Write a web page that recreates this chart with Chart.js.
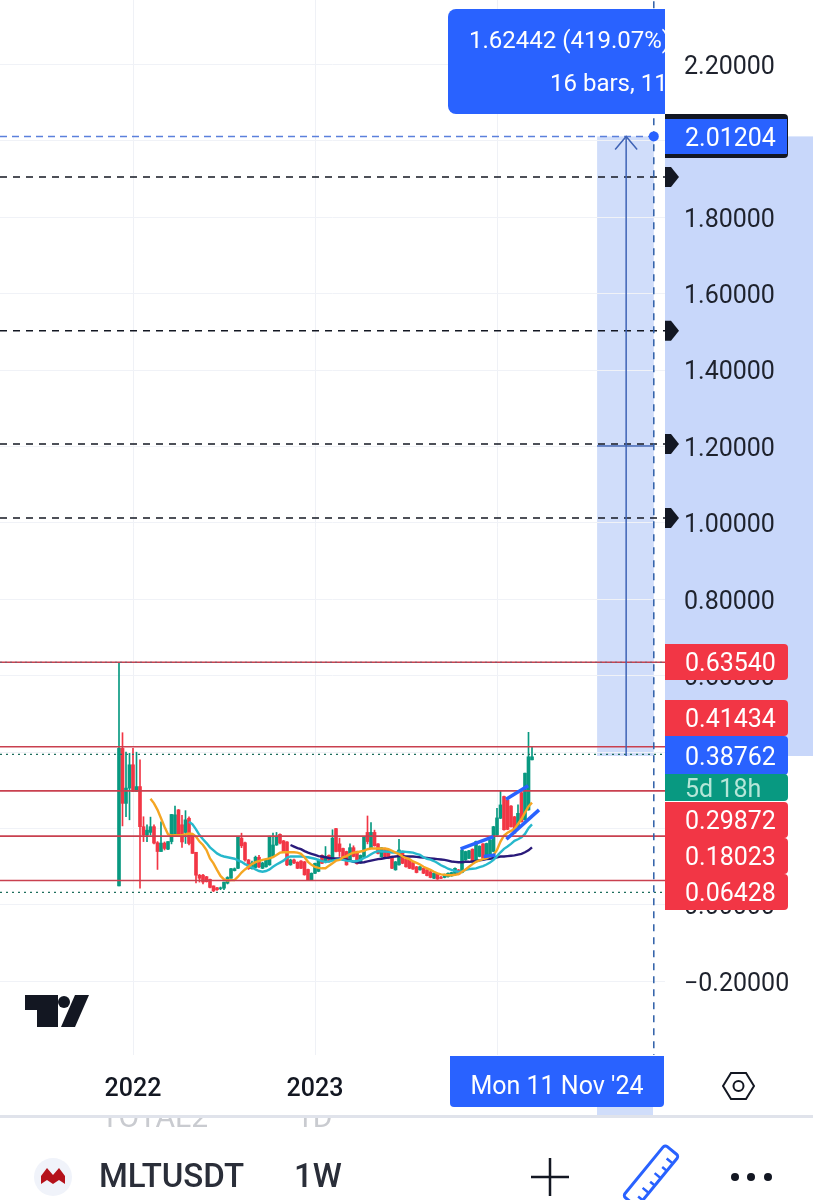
<!DOCTYPE html>
<html>
<head>
<meta charset="utf-8">
<title>MLTUSDT 1W</title>
<script src="https://cdn.jsdelivr.net/npm/chart.js@4/dist/chart.umd.min.js"></script>
<style>
  html, body { margin: 0; padding: 0; background: #fff; }
  canvas { display: block; }
</style>
</head>
<body>
<canvas id="grafico" width="813" height="1200"></canvas>
<script>
// weeks are counted from the first week of 2022
const firstWeek = -4;
const opens = [
  .05, .41, .266, .306, .367, .297, .31, .205, .183, .19,
  .205, .163, .14, .162, .146, .166, .183, .249, .21, .19,
  .227, .183, .138, .078, .078, .074, .067, .05, .045, .043,
  .044, .057, .07, .09, .096, .175, .163, .118, .095, .098,
  .125, .096, .1, .105, .127, .157, .185, .168, .165, .105,
  .118, .112, .115, .113, .093, .066, .083, .088, .13, .113,
  .13, .118, .2, .16, .148, .14, .118, .15, .14, .11,
  .125, .19, .15, .19, .16, .126, .148, .144, .127, .092,
  .105, .14, .12, .118, .111, .1, .092, .096, .092, .087,
  .07, .081, .072, .072, .074, .076, .079, .092, .085, .118,
  .122, .146, .118, .127, .16, .127, .131, .14, .183, .227,
  .284, .275, .259, .231, .205, .294, .223, .249, .38
];
const highs = [
  .635, .451, .40, .397, .41, .40, .38, .231, .21, .23,
  .21, .166, .218, .165, .166, .237, .259, .25, .235, .247,
  .231, .183, .138, .08, .08, .075, .068, .05, .046, .047,
  .06, .074, .096, .097, .18, .188, .165, .119, .115, .128,
  .13, .112, .12, .18, .188, .19, .186, .169, .166, .12,
  .12, .113, .116, .114, .094, .084, .11, .12, .131, .153,
  .131, .197, .201, .175, .149, .141, .16, .155, .141, .131,
  .179, .233, .216, .196, .161, .151, .149, .145, .128, .114,
  .172, .141, .121, .119, .112, .101, .101, .097, .093, .088,
  .084, .082, .075, .081, .084, .086, .097, .093, .145, .141,
  .143, .147, .167, .155, .161, .162, .171, .206, .253, .30,
  .285, .276, .26, .232, .262, .295, .345, .452, .415
];
const lows = [
  .05, .207, .231, .223, .297, .297, .044, .166, .166, .183,
  .16, .093, .14, .144, .145, .16, .182, .18, .151, .161,
  .157, .135, .058, .06, .055, .06, .045, .035, .038, .04,
  .04, .055, .07, .089, .095, .15, .115, .093, .094, .097,
  .098, .095, .099, .104, .127, .156, .16, .138, .103, .104,
  .108, .095, .095, .078, .065, .065, .082, .087, .108, .11,
  .112, .117, .139, .127, .117, .104, .117, .126, .107, .109,
  .124, .16, .148, .154, .134, .125, .126, .121, .095, .091,
  .104, .108, .099, .095, .093, .084, .091, .082, .076, .071,
  .069, .067, .069, .071, .073, .075, .078, .079, .084, .117,
  .121, .112, .117, .126, .121, .126, .13, .139, .182, .226,
  .196, .197, .204, .187, .204, .217, .222, .248, .38
];
const closes = [
  .41, .266, .306, .367, .297, .31, .205, .183, .196, .205,
  .162, .14, .162, .148, .166, .237, .236, .181, .165, .223,
  .161, .135, .078, .07, .06, .061, .046, .037, .04, .045,
  .06, .072, .095, .095, .178, .155, .118, .095, .11, .125,
  .1, .11, .118, .18, .157, .18, .162, .14, .105, .118,
  .11, .096, .096, .079, .066, .083, .109, .118, .109, .127,
  .113, .175, .14, .14, .118, .105, .15, .127, .108, .13,
  .178, .166, .19, .155, .135, .15, .127, .122, .096, .113,
  .144, .109, .1, .096, .094, .085, .1, .083, .077, .072,
  .083, .068, .07, .08, .083, .085, .096, .08, .144, .14,
  .142, .113, .166, .154, .122, .161, .17, .205, .228, .262,
  .197, .198, .205, .188, .24, .218, .345, .388, .388
];

// moving averages, each one starts at its own week
const emaFastStart = 5;
const emaFast = [
  .278, .266, .249, .227, .205, .185, .182, .183, .183, .183,
  .185, .187, .186, .179, .166, .157, .144, .122, .109, .092,
  .076, .067, .064, .065, .065, .074, .085, .093, .10, .107,
  .112, .115, .118, .12, .122, .125, .131, .137, .138, .138,
  .138, .138, .137, .134, .125, .113, .105, .10, .097, .096,
  .096, .103, .109, .116, .118, .125, .128, .133, .137, .138,
  .14, .142, .146, .148, .148, .148, .148, .148, .146, .142,
  .137, .133, .127, .123, .12, .114, .11, .106, .10, .096,
  .092, .087, .083, .08, .079, .078, .078, .079, .081, .087,
  .093, .10, .107, .113, .117, .12, .122, .127, .131, .144,
  .166, .182, .189, .194, .199, .212, .225, .242, .258, .268
];
const emaMidStart = 16;
const emaMid = [
  .218, .211, .198, .183, .172, .162, .151, .143, .135, .13,
  .127, .125, .123, .121, .117, .113, .107, .103, .098, .093,
  .089, .087, .089, .093, .10, .106, .111, .116, .124, .127,
  .127, .127, .127, .126, .125, .123, .121, .118, .115, .113,
  .114, .116, .118, .12, .118, .116, .115, .114, .115, .118,
  .123, .127, .133, .138, .141, .14, .14, .139, .137, .137,
  .139, .14, .139, .138, .137, .134, .131, .125, .121, .119,
  .115, .11, .104, .10, .095, .092, .089, .087, .088, .092,
  .094, .095, .096, .099, .102, .106, .111, .118, .128, .138,
  .147, .153, .16, .168, .172, .177, .186, .201, .211
];
const emaSlowStart = 45;
const emaSlow = [
  .157, .153, .149, .146, .141, .137, .134, .131, .128, .127,
  .125, .123, .122, .122, .122, .12, .119, .116, .113, .112,
  .111, .112, .114, .116, .118, .12, .121, .123, .124, .126,
  .127, .128, .128, .127, .127, .127, .126, .125, .124, .123,
  .122, .121, .12, .119, .118, .116, .114, .113, .112, .112,
  .113, .113, .114, .115, .117, .118, .12, .121, .123, .125,
  .127, .127, .128, .129, .13, .132, .134, .138, .143, .151
];

// drawings on the chart
const redLevels = [0.6354, 0.41434, 0.29872, 0.18023, 0.06428];
const dashedLevels = [1.906, 1.503, 1.207, 1.013];
const dottedLevels = [0.3945, 0.033];
const trendWeeks = [[93.6, 103], [100.2, 103.6], [106.6, 112.9], [106.7, 116]];
const trendPrices = [[.147, .179], [.127, .131], [.277, .312], [.172, .249]];
const measureWeeks = [132.6, 140.9, 148.8];
const measurePrices = [0.39, 1.2016, 2.01204];

// axes
const priceTicks = [2.2, 2, 1.8, 1.6, 1.4, 1.2, 1, 0.8, 0.6, 0.4, 0.2, 0, -0.2];
const yearTicks = [0, 52, 104];
const yearLabels = ['2022', '2023', '2024'];

const semanas = opens.map((_, i) => firstWeek + i);
const VERDE = '#089981';
const VERMELHO = '#f23645';
const AZUL = '#2962ff';
const FONTE = 'Roboto, sans-serif';
const coresVela = opens.map((o, i) => closes[i] >= o ? VERDE : VERMELHO);
const XMIN = -38, XMAX = 152;

function serie(valores, inicio) {
  return valores.map((v, i) => ({ x: inicio + i, y: v }));
}

function linhaH(y, cor, largura, traco, ordem) {
  return {
    type: 'line',
    data: [{ x: XMIN, y: y }, { x: XMAX, y: y }],
    borderColor: cor,
    borderWidth: largura,
    borderDash: traco,
    order: ordem
  };
}

function linha(pontos, cor, largura, ordem, traco) {
  return {
    type: 'line',
    data: pontos,
    borderColor: cor,
    borderWidth: largura,
    borderDash: traco || [],
    order: ordem
  };
}

const datasets = [
  {
    label: 'pavio',
    data: semanas.map((x, i) => ({ x: x, y: [lows[i], highs[i]] })),
    backgroundColor: coresVela,
    barThickness: 1,
    grouped: false,
    order: 9
  },
  {
    label: 'corpo',
    data: semanas.map((x, i) => ({ x: x, y: [opens[i], closes[i]] })),
    backgroundColor: coresVela,
    barThickness: 3,
    grouped: false,
    order: 8
  },
  linha(serie(emaSlow, emaSlowStart), '#2a1a7a', 2.4, 7),
  linha(serie(emaMid, emaMidStart), '#27b8cc', 2.4, 6),
  linha(serie(emaFast, emaFastStart), '#f5a623', 2.4, 5)
];

redLevels.forEach(n => datasets.push(linhaH(n, '#c9404f', 1.6, [], 3)));
datasets.push(linhaH(redLevels[0], '#6b5f70', 1, [2, 3], 2));
dashedLevels.forEach(n => datasets.push(linhaH(n, '#131722', 1.5, [7, 6], 3)));
dottedLevels.forEach(n => datasets.push(linhaH(n, '#1d6e5c', 1.3, [2, 4], 3)));

trendWeeks.forEach((w, i) => {
  datasets.push(linha([{ x: w[0], y: trendPrices[i][0] }, { x: w[1], y: trendPrices[i][1] }], '#2962ff', 3.5, 1));
});

// ferramenta de medicao
const [mIni, mMeio, mFim] = measureWeeks;
const [pBaixo, pMeio, pTopo] = measurePrices;
datasets.push(linha([{ x: mMeio, y: pBaixo }, { x: mMeio, y: pTopo }], '#3f63b5', 1.5, 1));
datasets.push(linha([{ x: mIni, y: pMeio }, { x: mFim, y: pMeio }], '#3f63b5', 1.5, 1));
datasets.push(linha([{ x: XMIN, y: pTopo }, { x: mFim, y: pTopo }], '#5b80dc', 1.5, 1, [7, 5]));
datasets.push(linha([{ x: mFim, y: 2.4 }, { x: mFim, y: -0.4 }], '#2f5fa8', 1.5, 1, [7, 6]));
datasets.push({
  type: 'line',
  data: [{ x: mFim, y: pTopo }],
  showLine: false,
  pointRadius: 5,
  pointBackgroundColor: AZUL,
  pointBorderWidth: 0,
  order: 0
});

function etiqueta(ctx, texto, topo, base, fundo, cor) {
  ctx.fillStyle = fundo;
  ctx.beginPath();
  ctx.roundRect(665, topo, 123, base - topo, [0, 4, 4, 0]);
  ctx.fill();
  ctx.fillStyle = cor;
  ctx.font = '25px ' + FONTE;
  ctx.textAlign = 'left';
  ctx.textBaseline = 'middle';
  ctx.fillText(texto, 685, (topo + base) / 2 + 3);
}

const extras = {
  id: 'extras',
  beforeDraw(chart) {
    const ctx = chart.ctx;
    const xs = chart.scales.x, ys = chart.scales.y;
    ctx.save();
    ctx.fillStyle = '#fff';
    ctx.fillRect(0, 0, 813, 1200);
    const y1 = ys.getPixelForValue(pTopo), y2 = ys.getPixelForValue(pBaixo);
    const x1 = xs.getPixelForValue(mIni), x2 = xs.getPixelForValue(mFim);
    ctx.fillStyle = '#d0ddfa';
    ctx.fillRect(x1, y1, x2 - x1, y2 - y1);
    ctx.fillStyle = '#c8d7fa';
    ctx.fillRect(665, y1, 148, y2 - y1);
    ctx.restore();
  },
  afterDraw(chart) {
    const ctx = chart.ctx;
    const xs = chart.scales.x, ys = chart.scales.y;
    ctx.save();

    // ponta da seta
    const xm = xs.getPixelForValue(mMeio), yt = ys.getPixelForValue(pTopo);
    ctx.strokeStyle = '#3f63b5';
    ctx.lineWidth = 1.5;
    ctx.beginPath();
    ctx.moveTo(xm - 11, yt + 13);
    ctx.lineTo(xm, yt);
    ctx.lineTo(xm + 11, yt + 13);
    ctx.stroke();

    // caixa da medicao, cortada na borda da escala
    ctx.save();
    ctx.beginPath();
    ctx.rect(0, 0, 665, 1200);
    ctx.clip();
    ctx.fillStyle = AZUL;
    ctx.beginPath();
    ctx.roundRect(448, 9, 240, 105, 8);
    ctx.fill();
    ctx.fillStyle = '#fff';
    ctx.font = '24px ' + FONTE;
    ctx.textAlign = 'left';
    ctx.textBaseline = 'middle';
    ctx.fillText('1.62442 (419.07%) 162442', 469, 42);
    ctx.fillText('16 bars, 112d', 550, 85);
    ctx.restore();

    // marcadores dos niveis tracejados
    ctx.fillStyle = '#131722';
    dashedLevels.forEach(n => {
      const y = ys.getPixelForValue(n);
      ctx.beginPath();
      ctx.moveTo(665, y - 10);
      ctx.lineTo(671, y - 10);
      ctx.lineTo(679, y);
      ctx.lineTo(671, y + 10);
      ctx.lineTo(665, y + 10);
      ctx.closePath();
      ctx.fill();
    });

    // etiquetas de preco
    ctx.fillStyle = '#131722';
    ctx.beginPath();
    ctx.roundRect(665, 114, 123, 44, [0, 4, 4, 0]);
    ctx.fill();
    ctx.fillStyle = AZUL;
    ctx.fillRect(665, 119, 122, 35);
    ctx.fillStyle = '#fff';
    ctx.font = '25px ' + FONTE;
    ctx.textAlign = 'left';
    ctx.textBaseline = 'middle';
    ctx.fillText(pTopo.toFixed(5), 685, 140);

    etiqueta(ctx, redLevels[0].toFixed(5), 644, 680, VERMELHO, '#fff');
    etiqueta(ctx, redLevels[1].toFixed(5), 700, 736, VERMELHO, '#fff');
    etiqueta(ctx, '0.38762', 736, 775, AZUL, '#fff');
    etiqueta(ctx, '5d 18h', 774, 801, VERDE, '#b5e6d8');
    etiqueta(ctx, redLevels[2].toFixed(5), 802, 838, VERMELHO, '#fff');
    etiqueta(ctx, redLevels[3].toFixed(5), 838, 874, VERMELHO, '#fff');
    etiqueta(ctx, redLevels[4].toFixed(5), 874, 910, VERMELHO, '#fff');

    // data no eixo do tempo
    ctx.fillStyle = '#d0ddfa';
    ctx.fillRect(597, 1107, 56, 9);
    ctx.fillStyle = AZUL;
    ctx.beginPath();
    ctx.roundRect(450, 1056, 214, 51, [0, 0, 4, 4]);
    ctx.fill();
    ctx.fillStyle = '#fff';
    ctx.font = '25px ' + FONTE;
    ctx.textAlign = 'center';
    ctx.fillText("Mon 11 Nov '24", 557, 1088);

    // logo
    ctx.fillStyle = '#131722';
    ctx.beginPath();
    ctx.moveTo(25, 995);
    ctx.lineTo(58, 995);
    ctx.lineTo(58, 1027);
    ctx.lineTo(37, 1027);
    ctx.lineTo(37, 1010);
    ctx.lineTo(25, 1010);
    ctx.closePath();
    ctx.fill();
    ctx.beginPath();
    ctx.arc(64, 1002, 6, 0, Math.PI * 2);
    ctx.fill();
    ctx.beginPath();
    ctx.moveTo(75, 995);
    ctx.lineTo(89, 995);
    ctx.lineTo(75, 1027);
    ctx.lineTo(61, 1027);
    ctx.closePath();
    ctx.fill();

    // hexagono das configuracoes
    ctx.strokeStyle = '#131722';
    ctx.lineWidth = 2;
    ctx.beginPath();
    ctx.moveTo(723, 1086);
    ctx.lineTo(731, 1073);
    ctx.lineTo(746, 1073);
    ctx.lineTo(754, 1086);
    ctx.lineTo(746, 1099);
    ctx.lineTo(731, 1099);
    ctx.closePath();
    ctx.stroke();
    ctx.beginPath();
    ctx.arc(738.5, 1086, 5, 0, Math.PI * 2);
    ctx.stroke();

    // barra inferior
    ctx.fillStyle = '#fff';
    ctx.fillRect(0, 1118, 813, 82);
    ctx.fillStyle = '#e0e3eb';
    ctx.fillRect(0, 1115, 813, 3);

    ctx.save();
    ctx.beginPath();
    ctx.rect(0, 1118, 813, 30);
    ctx.clip();
    ctx.fillStyle = '#c9cbd0';
    ctx.font = '30px ' + FONTE;
    ctx.textAlign = 'left';
    ctx.textBaseline = 'middle';
    ctx.fillText('TOTAL2', 101, 1119);
    ctx.fillText('1D', 296, 1119);
    ctx.restore();

    ctx.fillStyle = '#f0f3fa';
    ctx.beginPath();
    ctx.arc(53, 1177, 19, 0, Math.PI * 2);
    ctx.fill();
    ctx.fillStyle = '#b5121b';
    ctx.beginPath();
    ctx.moveTo(41, 1184);
    ctx.lineTo(41, 1176);
    ctx.lineTo(47, 1168);
    ctx.lineTo(53, 1175);
    ctx.lineTo(59, 1168);
    ctx.lineTo(65, 1176);
    ctx.lineTo(65, 1184);
    ctx.lineTo(59, 1180);
    ctx.lineTo(53, 1184);
    ctx.lineTo(47, 1180);
    ctx.closePath();
    ctx.fill();

    ctx.fillStyle = '#2a2e39';
    ctx.font = '500 33px ' + FONTE;
    ctx.textAlign = 'left';
    ctx.textBaseline = 'middle';
    ctx.fillText('MLTUSDT', 99, 1179);
    ctx.fillText('1W', 294, 1179);

    ctx.strokeStyle = '#131722';
    ctx.lineWidth = 2.5;
    ctx.beginPath();
    ctx.moveTo(531, 1177);
    ctx.lineTo(569, 1177);
    ctx.moveTo(550, 1158);
    ctx.lineTo(550, 1196);
    ctx.stroke();

    // regua
    ctx.save();
    ctx.translate(651, 1176);
    ctx.rotate(-Math.PI / 4 - 0.1);
    ctx.strokeStyle = '#2962ff';
    ctx.lineWidth = 3;
    ctx.beginPath();
    ctx.roundRect(-33, -9, 66, 18, 3);
    ctx.stroke();
    ctx.lineWidth = 2.5;
    ctx.beginPath();
    for (let i = 0; i < 6; i++) {
      ctx.moveTo(-24 + i * 9.5, 9);
      ctx.lineTo(-24 + i * 9.5, i % 2 ? 1 : 3);
    }
    ctx.stroke();
    ctx.restore();

    ctx.fillStyle = '#131722';
    [735, 751, 768].forEach(x => {
      ctx.beginPath();
      ctx.arc(x, 1177, 4, 0, Math.PI * 2);
      ctx.fill();
    });

    ctx.restore();
  }
};

// tira a margem que o Chart.js reserva para os rotulos
function semMargem(escala) {
  escala.paddingTop = 0;
  escala.paddingBottom = 0;
  escala.paddingLeft = 0;
  escala.paddingRight = 0;
}

new Chart(document.getElementById('grafico').getContext('2d'), {
  type: 'bar',
  data: { datasets: datasets },
  options: {
    responsive: false,
    animation: false,
    devicePixelRatio: 1,
    layout: { padding: 0, autoPadding: false },
    elements: {
      point: { radius: 0 },
      line: { tension: 0 },
      bar: { borderWidth: 0, borderSkipped: false }
    },
    plugins: {
      legend: { display: false },
      tooltip: { enabled: false },
      title: { display: false }
    },
    scales: {
      x: {
        type: 'linear',
        min: XMIN,
        max: XMAX,
        offset: false,
        position: 'bottom',
        grid: { color: '#eff1f6', offset: false, drawTicks: false },
        border: { display: false },
        afterBuildTicks(escala) {
          escala.ticks = yearTicks.map(v => ({ value: v }));
        },
        afterFit(escala) {
          escala.height = 145;
          semMargem(escala);
        },
        ticks: {
          autoSkip: false,
          maxRotation: 0,
          padding: 20,
          color: '#131722',
          font: { family: 'Roboto', size: 25, weight: '500' },
          callback: value => yearLabels[yearTicks.indexOf(value)]
        }
      },
      y: {
        type: 'linear',
        position: 'right',
        min: -0.3927,
        max: 2.3691,
        grid: { color: '#f0f2f7', drawTicks: false },
        border: { display: false },
        afterBuildTicks(escala) {
          escala.ticks = priceTicks.map(v => ({ value: v }));
        },
        afterFit(escala) {
          escala.width = 148;
          semMargem(escala);
        },
        ticks: {
          autoSkip: false,
          padding: 19,
          labelOffset: 3,
          color: '#1e222d',
          font: { family: 'Roboto', size: 25 },
          callback: value => (value < 0 ? '\u2212' + Math.abs(value).toFixed(5) : value.toFixed(5))
        }
      }
    }
  },
  plugins: [extras]
});
</script>
</body>
</html>
